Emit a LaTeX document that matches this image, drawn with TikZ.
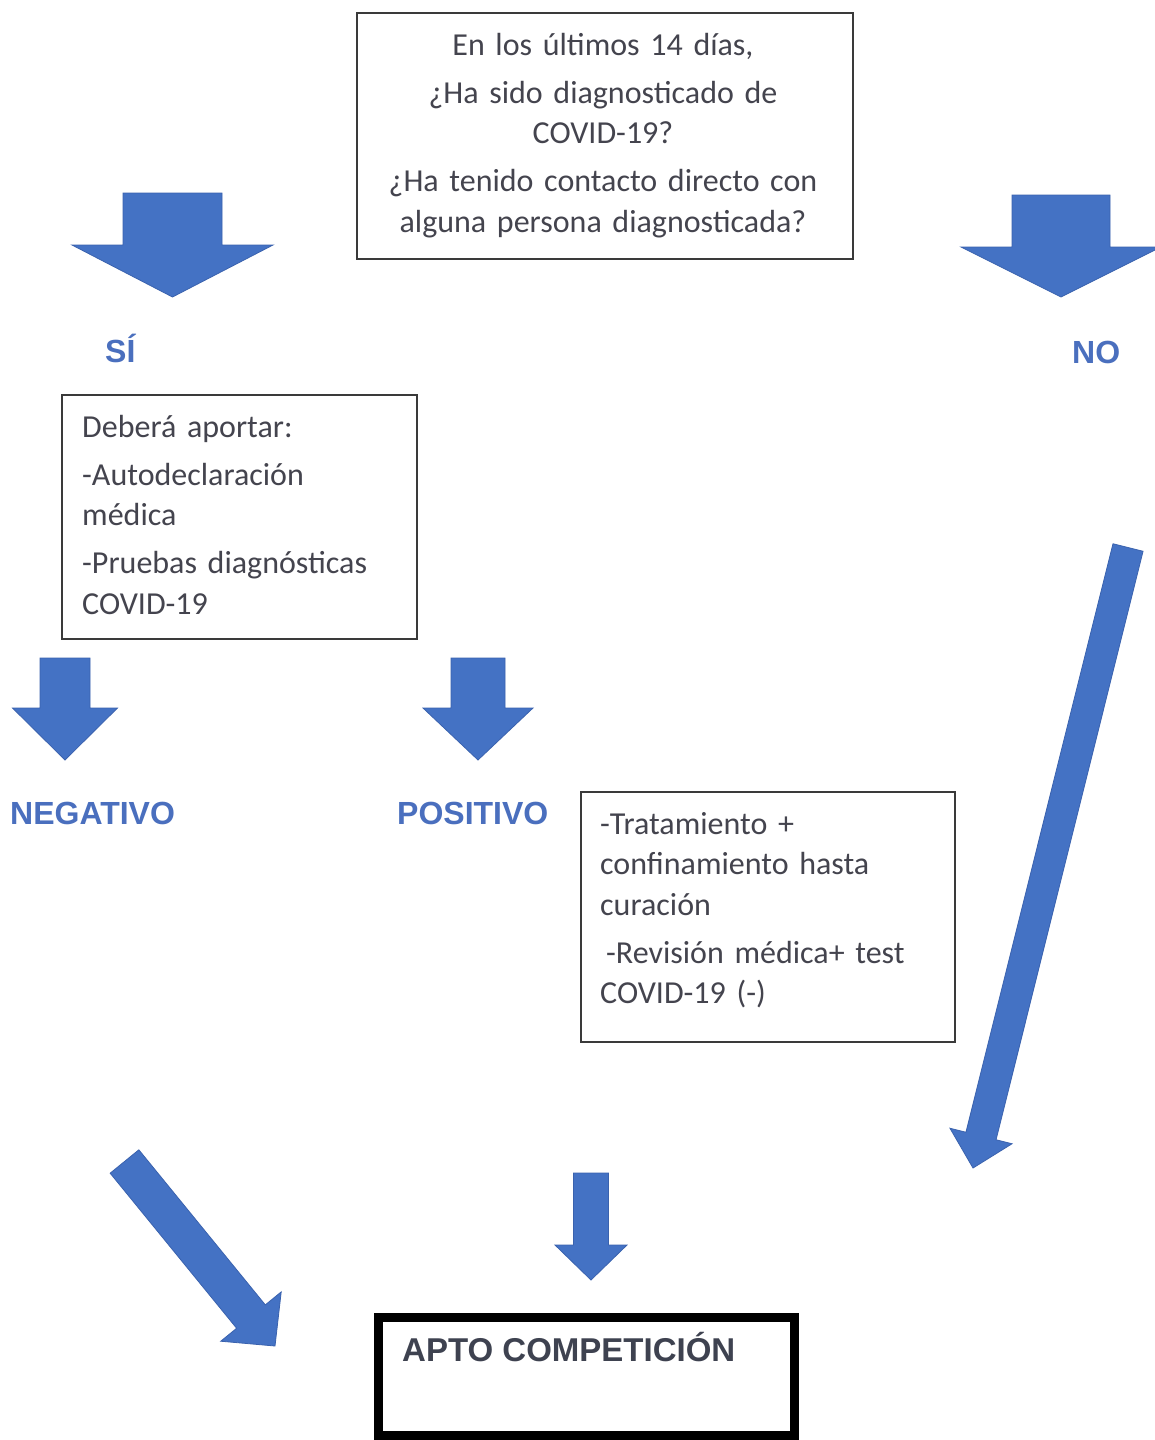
\documentclass[tikz,border=0pt]{standalone}
\usepackage{fontspec}
\setmainfont{Carlito}
\newfontfamily\lblfont{Liberation Sans}
\usetikzlibrary{calc}
\definecolor{arrowblue}{HTML}{4472C4}
\definecolor{arrowedge}{HTML}{3A62AE}
\definecolor{lblblue}{HTML}{4A6FBE}
\definecolor{txtgray}{HTML}{44444E}
\definecolor{aptogray}{HTML}{3E4250}
\definecolor{boxline}{HTML}{3A3A3A}
\newcommand{\blockarrow}[6]{%
  \coordinate (#1-s) at #2;
  \coordinate (#1-t) at #3;
  \coordinate (#1-n) at ($(#1-t)!#6!(#1-s)$);
  \path[blockarr] ($(#1-s)!#4!90:(#1-t)$) -- ($(#1-n)!#4!90:(#1-t)$)
    -- ($(#1-n)!#5!90:(#1-t)$) -- (#1-t) -- ($(#1-n)!#5!-90:(#1-t)$)
    -- ($(#1-n)!#4!-90:(#1-t)$) -- ($(#1-s)!#4!-90:(#1-t)$) -- cycle;}
\begin{document}
\begin{tikzpicture}[x=1pt,y=-1pt,
  qbox/.style={draw=boxline, line width=1.4pt, inner sep=0pt},
  boxtext/.style={font=\fontsize{32}{40.5}\selectfont, text=txtgray, inner sep=0pt},
  lbl/.style={font=\lblfont\bfseries\fontsize{32}{38}\selectfont, text=lblblue, inner sep=0pt},
  blockarr/.style={fill=arrowblue, draw=arrowedge, line width=0.8pt, line join=miter}]
\useasboundingbox (0,0) rectangle (1154,1440);
\fill[white] (0,0) rectangle (1154,1440);

% question box
\node[qbox, minimum width=496, minimum height=246] (q) at (605,136) {};
\node[boxtext, text width=480, align=center, anchor=base] (qt) at (603,55)
  {En los últimos 14 días,\\[7.5pt] ¿Ha sido diagnosticado de\\ COVID-19?\\[7.5pt] ¿Ha tenido contacto directo con\\ alguna persona diagnosticada?};

% top arrows and labels
\blockarrow{asi}{(172.5,193)}{(172.5,297)}{49.5pt}{100.5pt}{52pt}
\blockarrow{ano}{(1061,195)}{(1061,297)}{49pt}{100pt}{50pt}
\node[lbl, anchor=base west] (si) at (105,362) {SÍ};
\node[lbl, anchor=base west] (no) at (1072,363.5) {NO};

% requirements box
\node[qbox, minimum width=355, minimum height=244] (d) at (239.5,517) {};
\node[boxtext, text width=320, align=left, anchor=base west] (dt) at (82,437)
  {Deberá aportar:\\[7.5pt] -Autodeclaración\\ médica\\[7.5pt] -Pruebas diagnósticas\\ COVID-19};

% result arrows and labels
\blockarrow{aneg}{(65,658)}{(65,760)}{25pt}{52.5pt}{52pt}
\blockarrow{apos}{(478,658)}{(478,760)}{27pt}{55pt}{52pt}
\node[lbl, anchor=base west] (neg) at (10,824) {NEGATIVO};
\node[lbl, anchor=base west] (pos) at (397,824) {POSITIVO};

% treatment box
\node[qbox, minimum width=374, minimum height=250] (tr) at (768,917) {};
\node[boxtext, text width=340, align=left, anchor=base west] (trt) at (600,834)
  {-Tratamiento +\\ confinamiento hasta\\ curación\\[7.5pt] \hspace*{6pt}-Revisión médica+ test\\ COVID-19 (-)};

% long and lower arrows
\blockarrow{along}{(1128,547.5)}{(973,1168)}{15.5pt}{32pt}{33pt}
\blockarrow{adiag}{(124.5,1161.5)}{(275,1346)}{18.5pt}{39pt}{38pt}
\blockarrow{amid}{(591,1173)}{(591,1280)}{17.5pt}{36pt}{35pt}

% final box
\node[draw=black, line width=9pt, minimum width=416, minimum height=118, inner sep=0pt] (apto) at (586.5,1376.5) {};
\node[lbl, text=aptogray, font=\lblfont\bfseries\fontsize{33}{38}\selectfont, anchor=base west] (aptot) at (402,1361) {APTO COMPETICIÓN};
\end{tikzpicture}
\end{document}
